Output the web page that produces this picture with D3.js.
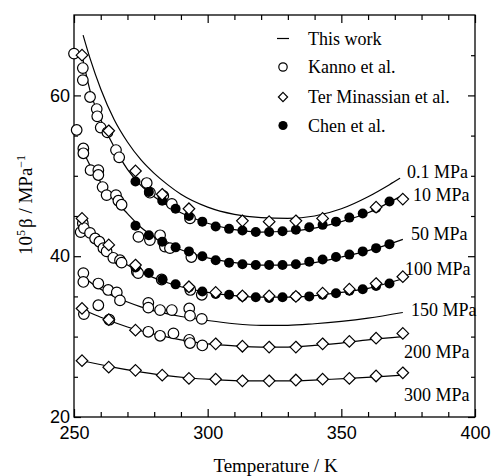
<!DOCTYPE html>
<html>
<head>
<meta charset="utf-8">
<script src="https://cdn.jsdelivr.net/npm/d3@7"></script>
<style>
body { margin: 0; background: #fff; }
</style>
</head>
<body>
<div id="chart"></div>
<script>
// ---- data (T in K, 10^5 beta in MPa^-1) ----
const pressures = ["0.1 MPa", "10 MPa", "50 MPa", "100 MPa", "150 MPa", "200 MPa", "300 MPa"];

// "This work" curves
const curve01 = [[253.4,67.5],[256,64.6],[260,60.8],[265,57.0],[270,54.2],[275,52.0],[280,50.3],[285,48.9],[290,47.7],[300,46.1],[310,45.2],[320,44.8],[330,44.7],[340,45.0],[350,45.9],[360,47.4],[368,48.9],[372,49.7]];
const curve10 = [[253,65.0],[256,60.6],[260,57.0],[265,53.6],[270,50.8],[275,48.8],[280,47.4],[285,46.3],[290,45.4],[300,44.1],[310,43.3],[320,43.0],[330,43.1],[340,43.5],[350,44.3],[360,45.4],[368,46.7],[373,47.6]];
const curve50 = [[253,53.4],[256,51.3],[260,49.2],[265,47.1],[270,45.3],[275,43.6],[280,42.4],[285,41.5],[290,40.8],[300,39.8],[310,39.2],[320,38.9],[330,38.9],[340,39.2],[350,39.9],[360,40.7],[368,41.5],[373,42.1]];
const curve100 = [[253,44.6],[256,42.9],[260,41.4],[265,40.0],[270,38.9],[275,38.0],[280,37.3],[285,36.7],[290,36.2],[300,35.5],[310,35.1],[320,34.9],[330,34.9],[340,35.1],[350,35.5],[360,36.0],[368,36.7],[373,37.2]];
const curve150 = [[253,37.8],[256,36.8],[260,35.9],[265,35.0],[270,34.3],[275,33.7],[280,33.2],[290,32.5],[300,32.0],[310,31.6],[320,31.4],[330,31.4],[340,31.6],[350,31.9],[360,32.3],[373,33.0]];
const curve200 = [[253,33.4],[260,32.4],[270,31.2],[280,30.3],[290,29.6],[300,29.1],[310,28.85],[320,28.7],[330,28.7],[340,28.9],[350,29.2],[360,29.6],[373,30.0]];
const curve300 = [[253,27.0],[263,26.3],[273,25.7],[283,25.2],[293,24.85],[303,24.65],[313,24.5],[323,24.5],[333,24.5],[343,24.65],[353,24.8],[363,25.0],[373,25.2]];

// Kanno et al. (open circles)
const kanno10 = [[250.0,65.2],[253.3,63.4],[253.3,61.9],[256.0,59.8],[258.5,58.3],[258.7,57.4],[260.0,56.0],[262.5,55.4],[265.7,53.2],[266.9,52.3],[277.2,49.1],[278.4,47.9],[283.4,47.5],[286.6,46.5],[293.4,44.7]];
const kanno50 = [[251.0,55.7],[253.5,53.4],[253.5,52.8],[256.2,50.7],[259.1,50.7],[259.1,50.1],[260.7,48.6],[262.2,47.6],[265.7,47.6],[266.6,46.9],[267.8,46.4],[274.1,42.4],[278.4,42.0],[282.2,42.6],[284.0,41.2],[285.9,41.0],[293.9,39.9]];
const kanno100 = [[252.5,43.0],[253.3,44.1],[253.7,43.5],[256.0,42.9],[257.9,42.2],[259.5,41.8],[261.0,41.0],[262.2,40.6],[264.7,39.8],[267.2,39.5],[267.8,39.2],[273.5,38.1],[274.0,37.9],[282.8,37.1],[293.5,35.8],[297.8,35.2]];
const kanno150 = [[253.5,37.9],[253.5,36.8],[259.1,36.6],[262.8,35.8],[266.0,35.5],[267.2,34.5],[259.1,33.9],[277.8,34.2],[277.8,33.6],[282.2,33.3],[286.6,33.3],[293.1,33.5],[293.4,32.6],[297.8,32.2]];
const kanno200 = [[253.7,32.8],[263.2,32.1],[277.8,30.6],[282.2,30.1],[287.2,30.4],[293.1,29.6],[293.4,29.2],[298.0,28.9]];

// Chen et al. (filled circles), every 5 K
const chenT = [273,278,283,288,293,298,303,308,313,318,323,328,333,338,343,348,353,358,363,368];
const chen10 = [49.3,48.0,46.9,45.9,45.0,44.3,43.7,43.4,43.2,43.0,43.0,43.1,43.3,43.6,43.9,44.3,44.8,45.3,46.0,46.8];
const chen50 = [43.8,42.6,41.8,41.1,40.6,40.0,39.5,39.2,39.0,38.9,38.9,38.9,39.0,39.3,39.6,39.9,40.2,40.6,41.0,41.5];
const chen100 = [38.6,37.9,37.1,36.5,36.1,35.6,35.3,35.2,35.0,34.9,34.8,34.9,35.0,35.0,35.2,35.4,35.7,35.9,36.3,36.6];

// Ter Minassian et al. (open diamonds), every 10 K
const tmT = [253,263,273,283,293,303,313,323,333,343,353,363,373];
const tm10 = [65.0,55.6,50.6,47.7,45.9,null,44.4,44.3,44.4,44.7,null,46.1,47.1];
const tm100 = [44.7,41.4,38.9,null,36.2,35.5,35.05,35.05,35.0,35.4,35.9,36.6,37.45];
const tm200 = [33.5,32.1,30.8,null,null,29.1,28.8,28.7,28.7,29.1,29.4,29.8,30.4];
const tm300 = [27.0,26.2,25.8,25.2,24.8,24.7,24.5,24.5,24.6,24.7,24.8,25.1,25.5];

const xMajor = [250, 300, 350, 400];
const yMajor = [20, 40, 60];
const legendLabels = ["This work", "Kanno et al.", "Ter Minassian et al.", "Chen et al."];

// ---- layout ----
const W = 492, H = 476;
const margin = {top: 15, right: 17, bottom: 59, left: 74};
const width = W - margin.left - margin.right;
const height = H - margin.top - margin.bottom;
const serif = "'Liberation Serif', 'Times New Roman', serif";
const sans = "'Liberation Sans', Arial, sans-serif";

const svg0 = d3.select("#chart").append("svg")
    .attr("width", W)
    .attr("height", H)
    .style("background", "#fff");

const svg = svg0.append("g")
    .attr("transform", "translate(" + margin.left + "," + margin.top + ")");

const x = d3.scaleLinear().domain([250, 400]).range([0, width]);
const y = d3.scaleLinear().domain([20, 70]).range([height, 0]);

const xMinor = d3.range(260, 400, 10).filter(d => xMajor.indexOf(d) < 0);
const yMinor = d3.range(25, 70, 5).filter(d => yMajor.indexOf(d) < 0);

function styleAxis(g) {
    g.select(".domain").remove();
    g.selectAll("line").attr("stroke", "#000").attr("stroke-width", 1.2);
    g.selectAll("text").attr("fill", "#000").style("font-family", sans).style("font-size", "18px");
}

// bottom
svg.append("g").attr("transform", "translate(0," + height + ")")
    .call(d3.axisBottom(x).tickValues(xMajor).tickSize(-8).tickPadding(9).tickFormat(d3.format("d")))
    .call(styleAxis);
svg.append("g").attr("transform", "translate(0," + height + ")")
    .call(d3.axisBottom(x).tickValues(xMinor).tickSize(-5).tickFormat(""))
    .call(styleAxis);
// top
svg.append("g")
    .call(d3.axisTop(x).tickValues(xMajor).tickSize(-8).tickFormat(""))
    .call(styleAxis);
svg.append("g")
    .call(d3.axisTop(x).tickValues(xMinor).tickSize(-5).tickFormat(""))
    .call(styleAxis);
// left
svg.append("g")
    .call(d3.axisLeft(y).tickValues(yMajor).tickSize(-7).tickPadding(4).tickFormat(d3.format("d")))
    .call(styleAxis);
svg.append("g")
    .call(d3.axisLeft(y).tickValues(yMinor).tickSize(-4).tickFormat(""))
    .call(styleAxis);
// right
svg.append("g").attr("transform", "translate(" + width + ",0)")
    .call(d3.axisRight(y).tickValues(yMajor).tickSize(-7).tickFormat(""))
    .call(styleAxis);
svg.append("g").attr("transform", "translate(" + width + ",0)")
    .call(d3.axisRight(y).tickValues(yMinor).tickSize(-4).tickFormat(""))
    .call(styleAxis);

// frame
svg.append("rect")
    .attr("x", 0).attr("y", 0)
    .attr("width", width).attr("height", height)
    .attr("fill", "none")
    .attr("stroke", "#000")
    .attr("stroke-width", 1.3);

// curves
const line = d3.line()
    .x(d => x(d[0]))
    .y(d => y(d[1]))
    .curve(d3.curveMonotoneX);

const curves = [curve01, curve10, curve50, curve100, curve150, curve200, curve300];
svg.selectAll(".curve")
    .data(curves)
    .enter()
    .append("path")
    .attr("class", "curve")
    .attr("d", line)
    .attr("fill", "none")
    .attr("stroke", "#000")
    .attr("stroke-width", 1.2);

// Kanno open circles
const kannoAll = [].concat(kanno10, kanno50, kanno100, kanno150, kanno200);
svg.selectAll(".kanno")
    .data(kannoAll)
    .enter()
    .append("circle")
    .attr("class", "kanno")
    .attr("cx", d => x(d[0]))
    .attr("cy", d => y(d[1]))
    .attr("r", 5.3)
    .attr("fill", "#fff")
    .attr("stroke", "#000")
    .attr("stroke-width", 1.2);

// Chen filled circles
const chenAll = [];
[chen10, chen50, chen100].forEach(s => {
    s.forEach((v, i) => chenAll.push([chenT[i], v]));
});
svg.selectAll(".chen")
    .data(chenAll)
    .enter()
    .append("circle")
    .attr("class", "chen")
    .attr("cx", d => x(d[0]))
    .attr("cy", d => y(d[1]))
    .attr("r", 5.0)
    .attr("fill", "#000");

// Ter Minassian diamonds
const diamond = "M0,-5.8L5.8,0L0,5.8L-5.8,0Z";
const tmAll = [];
[tm10, tm100, tm200, tm300].forEach(s => {
    s.forEach((v, i) => { if (v != null) tmAll.push([tmT[i], v]); });
});
svg.selectAll(".tm")
    .data(tmAll)
    .enter()
    .append("path")
    .attr("class", "tm")
    .attr("d", diamond)
    .attr("transform", d => "translate(" + x(d[0]) + "," + y(d[1]) + ")")
    .attr("fill", "#fff")
    .attr("stroke", "#000")
    .attr("stroke-width", 1.2);

// pressure labels (pixel positions in the svg)
const labelPos = [[407, 178], [413, 201], [411, 240], [405, 275], [411, 316], [404, 358], [404, 401]];
svg0.selectAll(".plabel")
    .data(pressures)
    .enter()
    .append("text")
    .attr("class", "plabel")
    .attr("x", (d, i) => labelPos[i][0])
    .attr("y", (d, i) => labelPos[i][1])
    .style("font-family", serif)
    .style("font-size", "18px")
    .text(d => d);

// legend
const leg = svg0.append("g");
leg.append("line")
    .attr("x1", 277).attr("x2", 289)
    .attr("y1", 38.5).attr("y2", 38.5)
    .attr("stroke", "#000").attr("stroke-width", 1.2);
leg.append("circle")
    .attr("cx", 283).attr("cy", 67).attr("r", 4.2)
    .attr("fill", "#fff").attr("stroke", "#000").attr("stroke-width", 1.2);
leg.append("path")
    .attr("d", "M0,-4.6L4.6,0L0,4.6L-4.6,0Z")
    .attr("transform", "translate(283,97)")
    .attr("fill", "#fff").attr("stroke", "#000").attr("stroke-width", 1.2);
leg.append("circle")
    .attr("cx", 283).attr("cy", 125.5).attr("r", 4.6)
    .attr("fill", "#000");
const legY = [45, 73, 103, 131.5];
leg.selectAll("text")
    .data(legendLabels)
    .enter()
    .append("text")
    .attr("x", 308)
    .attr("y", (d, i) => legY[i])
    .style("font-family", serif)
    .style("font-size", "18px")
    .text(d => d);

// axis titles
svg0.append("text")
    .attr("x", margin.left + width / 2 + 1)
    .attr("y", 472)
    .attr("text-anchor", "middle")
    .style("font-family", serif)
    .style("font-size", "19px")
    .text("Temperature / K");

const yt = svg0.append("text")
    .attr("transform", "translate(32,255) rotate(-90)")
    .style("font-family", serif)
    .style("font-size", "19px");
yt.append("tspan").text("10");
yt.append("tspan").attr("dy", -7).style("font-size", "12px").text("5");
yt.append("tspan").attr("dy", 7).attr("dx", 2).text("β / MPa");
yt.append("tspan").attr("dy", -7).style("font-size", "12px").text("−1");
</script>
</body>
</html>
